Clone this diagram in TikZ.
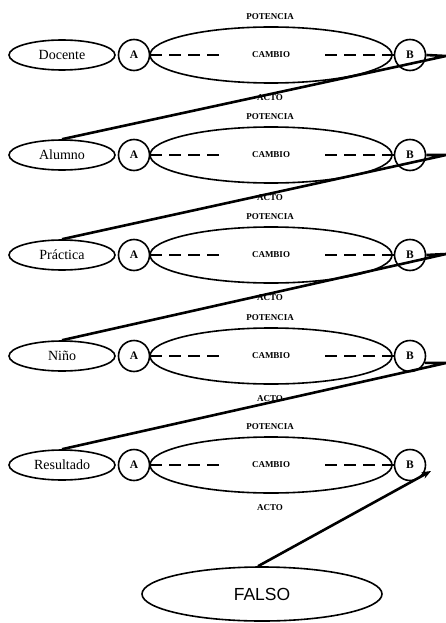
\documentclass[tikz,border=0pt]{standalone}
\usepackage{fontspec}
\setmainfont{Liberation Serif}
\newfontfamily\falsofont{Liberation Sans}
\usetikzlibrary{shapes.geometric,arrows.meta}
\begin{document}
\begin{tikzpicture}[x=1pt,y=-1pt,
 lbl/.style={draw,ellipse,line width=1.6pt,minimum width=106pt,minimum height=30pt,inner sep=0pt,font=\fontsize{14}{15}\selectfont},
 pt/.style={draw,circle,line width=1.6pt,minimum size=31pt,inner sep=0pt,font=\fontsize{11.5}{12}\selectfont\bfseries},
 big/.style={draw,ellipse,line width=1.6pt,minimum width=242pt,minimum height=56pt,inner sep=0pt,font=\fontsize{9}{10}\selectfont\bfseries},
 small/.style={font=\fontsize{9}{10}\selectfont\bfseries,inner sep=1pt},
 dash line/.style={line width=1.8pt,dash pattern=on 12pt off 7pt},
 link/.style={line width=2.6pt,line join=miter}]
\useasboundingbox (0,0) rectangle (446,623);
\foreach \i/\y/\t in {1/55/Docente,2/155/Alumno,3/255/Práctica,4/356/Niño,5/465/Resultado} {
  \node[lbl] (L\i) at (62,\y) {\t};
  \node[pt] (A\i) at (134,\y) {A};
  \node[big] (C\i) at (271,\y) {CAMBIO};
  \node[pt] (B\i) at (410,\y) {B};
  \node[small] (P\i) at (270,\y-38) {POTENCIA};
  \node[small] (T\i) at (270,\y+43) {ACTO};
  \coordinate (d1\i) at (222,\y);
  \coordinate (d2\i) at (320,\y);
  \draw[dash line] (A\i.east) -- (d1\i);
  \draw[dash line] (B\i.west) -- (d2\i);
}
\node[draw,ellipse,line width=1.6pt,minimum width=240pt,minimum height=54pt,inner sep=0pt,font=\falsofont\fontsize{17.5}{19}\selectfont] (F) at (262,594) {FALSO};
\coordinate (tip1) at (446,56);
\coordinate (tip2) at (446,155);
\coordinate (tip3) at (446,254);
\coordinate (tip4) at (446,363);
\coordinate (end5) at (431,471);
\draw[link] (B1.east) -- (tip1) -- (L2.north);
\draw[link] (B2.east) -- (tip2) -- (L3.north);
\draw[link] (B3.east) -- (tip3) -- (L4.north);
\draw[link] (B4.-25) -- (tip4) -- (L5.north);
\draw[link,-{Stealth[length=9pt,width=7pt]}] ([xshift=-4pt]F.north) -- (end5);
\end{tikzpicture}
\end{document}
